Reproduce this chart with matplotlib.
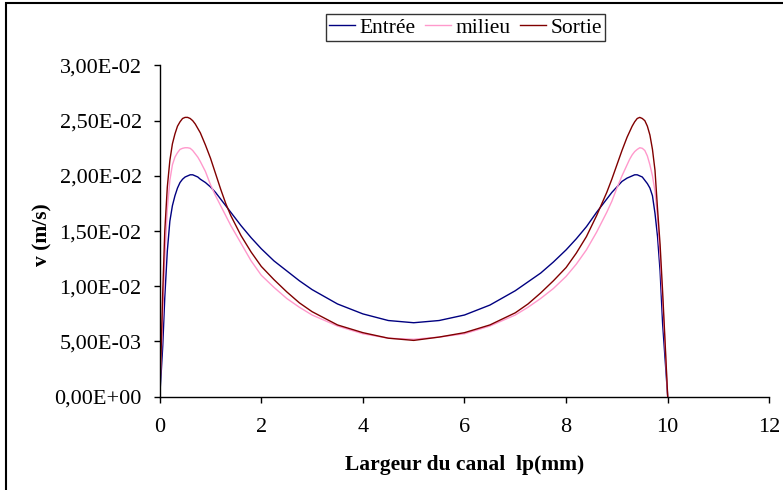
import matplotlib
matplotlib.use("Agg")
import matplotlib.pyplot as plt
from matplotlib.patches import Rectangle

# ---- data ----
x_mm = [0, 0.03, 0.06, 0.1, 0.15, 0.2, 0.25, 0.3, 0.35, 0.4, 0.45, 0.5, 0.55, 0.6,
        0.65, 0.7, 0.75, 0.8, 0.9, 1.0, 1.1, 1.2, 1.3, 1.4, 1.6, 1.8, 2.0, 2.25,
        2.5, 2.75, 3.0, 3.5, 4.0, 4.5, 5.0, 5.5, 6.0, 6.5, 7.0, 7.25, 7.5, 7.75,
        8.0, 8.2, 8.4, 8.6, 8.8, 8.9, 9.0, 9.1, 9.2, 9.25, 9.3, 9.35, 9.4, 9.45,
        9.5, 9.55, 9.6, 9.65, 9.7, 9.75, 9.8, 9.85, 9.9, 9.95, 10.0]

entree = [0, 0.0022, 0.0046, 0.0090, 0.0132, 0.0159, 0.0173, 0.0182, 0.0189, 0.0194,
          0.0197, 0.0199, 0.0200, 0.0201, 0.0201, 0.0200, 0.0199, 0.0197, 0.0194,
          0.0190, 0.0185, 0.0179, 0.0173, 0.0167, 0.0155, 0.0144, 0.0134, 0.0123,
          0.0114, 0.0105, 0.0097, 0.0084, 0.0075, 0.0069, 0.0067, 0.0069, 0.0074,
          0.0083, 0.0096, 0.0104, 0.0112, 0.0122, 0.0133, 0.0143, 0.0154, 0.0167,
          0.0179, 0.0185, 0.0190, 0.0195, 0.0198, 0.0199, 0.0200, 0.0201, 0.0201,
          0.0200, 0.0199, 0.0196, 0.0193, 0.0189, 0.0182, 0.0166, 0.0145, 0.0114,
          0.0066, 0.0033, 0]

milieu = [0, 0.0035, 0.0075, 0.0125, 0.0170, 0.0196, 0.0210, 0.0217, 0.0221, 0.0224,
          0.0225, 0.02255, 0.02255, 0.0225, 0.0223, 0.0220, 0.0217, 0.0213, 0.0204,
          0.0192, 0.0182, 0.0173, 0.0164, 0.0155, 0.0139, 0.0123, 0.0110, 0.0099,
          0.0089, 0.0081, 0.0074, 0.0064, 0.0057, 0.0053, 0.0052, 0.0054, 0.0057,
          0.0064, 0.0074, 0.0081, 0.0089, 0.0098, 0.0109, 0.0120, 0.0133, 0.0149,
          0.0167, 0.0177, 0.0189, 0.0200, 0.0210, 0.0215, 0.0219, 0.0222, 0.0224,
          0.02255, 0.0225, 0.0223, 0.0218, 0.0210, 0.0200, 0.0186, 0.0163, 0.0128,
          0.0088, 0.0045, 0]

sortie = [0, 0.0045, 0.0095, 0.0150, 0.0190, 0.0214, 0.0229, 0.0238, 0.0245, 0.0249,
          0.0252, 0.0253, 0.0253, 0.0252, 0.0250, 0.0247, 0.0243, 0.0239, 0.0228,
          0.0216, 0.0202, 0.0188, 0.0175, 0.0164, 0.0146, 0.0131, 0.0118, 0.0106,
          0.0095, 0.0085, 0.0077, 0.0065, 0.0058, 0.0053, 0.0051, 0.0054, 0.0058,
          0.0065, 0.0076, 0.0084, 0.0094, 0.0105, 0.0117, 0.0130, 0.0145, 0.0164,
          0.0185, 0.0197, 0.0210, 0.0223, 0.0235, 0.0240, 0.0245, 0.0249, 0.0252,
          0.0253, 0.0252, 0.0250, 0.0245, 0.0237, 0.0224, 0.0205, 0.0170, 0.0138,
          0.0095, 0.0048, 0]

series_names = ["Entrée", "milieu", "Sortie"]
series_colors = ["#000080", "#FF99CC", "#800000"]

x_ticks = [0, 2, 4, 6, 8, 10, 12]
y_ticks = [0, 0.005, 0.010, 0.015, 0.020, 0.025, 0.030]
y_tick_labels = ["0,00E+00", "5,00E-03", "1,00E-02", "1,50E-02",
                 "2,00E-02", "2,50E-02", "3,00E-02"]

plt.rcParams['font.family'] = ['Liberation Serif', 'DejaVu Serif']

W, H = 783, 490
X0, X1, Y0, Y1 = 159.7, 769.3, 396.7, 65.5
fig = plt.figure(figsize=(W / 100, H / 100), dpi=100)
ax = fig.add_axes([X0 / W, 1 - Y0 / H, (X1 - X0) / W, (Y0 - Y1) / H])

for ys, name, col in zip([entree, milieu, sortie], series_names, series_colors):
    ax.plot(x_mm, ys, color=col, lw=1.0, label=name)

ax.set_xlim(0, 12)
ax.set_ylim(0, 0.03)
ax.set_xticks(x_ticks)
ax.set_xticklabels([str(t) for t in x_ticks])
ax.set_yticks(y_ticks)
ax.set_yticklabels(y_tick_labels)
ax.spines['top'].set_visible(False)
ax.spines['right'].set_visible(False)
for s in ['left', 'bottom']:
    ax.spines[s].set_linewidth(1.0)
    ax.spines[s].set_color('black')
ax.tick_params(direction='out', length=4, width=1.0, labelsize=16, pad=9, colors='black')
ax.tick_params(axis='x', pad=11)

ax.set_xlabel("Largeur du canal  lp(mm)", fontsize=15.5, fontweight='bold')
ax.set_ylabel("v (m/s)", fontsize=15.5, fontweight='bold')
ax.xaxis.set_label_coords((465 - X0) / (X1 - X0), -(455 - Y0) / (Y0 - Y1))
ax.yaxis.set_label_coords(-(X0 - 52) / (X1 - X0), (Y0 - 235) / (Y0 - Y1))

leg = fig.legend(loc='center', bbox_to_anchor=(465.5 / W, 1 - 27.5 / H), ncol=3,
                 fontsize=15.5, frameon=True, fancybox=False, shadow=False,
                 handlelength=1.2, handletextpad=0.2, columnspacing=0.45,
                 borderpad=0.15, borderaxespad=0)
leg.get_frame().set_edgecolor('black')
leg.get_frame().set_linewidth(1.0)

fig.patches.append(Rectangle((5.5 / W, -0.5), 2, 1.5 - 3.5 / H, transform=fig.transFigure,
                             fill=False, edgecolor='black', lw=1.5, clip_on=False))

fig.savefig("out.png", dpi=100)
